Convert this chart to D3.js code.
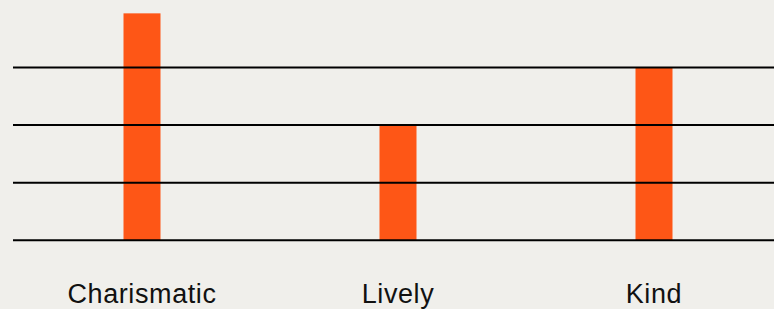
<!DOCTYPE html>
<html lang="en">
<head>
    <script src="https://d3js.org/d3.v7.min.js"></script>
    <style>
        html, body {
            margin: 0;
            padding: 0;
            background: #f0efeb;
        }

        .label {
            font-family: "Liberation Sans", Arial, sans-serif;
            font-size: 27px;
            letter-spacing: 0.6px;
            fill: #111;
        }
    </style>
</head>
<body>
<div id="chart"></div>

<script>
    var categories = ["Charismatic", "Lively", "Kind"];
    var values = [3.94, 2, 3];
    var gridValues = [0, 1, 2, 3];

    var w = 774;
    var h = 309;

    var svg = d3.select("#chart")
        .append("svg")
        .attr("width", w)
        .attr("height", h);

    var xScale = d3.scalePoint()
        .domain(categories)
        .range([14, 782])
        .padding(0.5);

    var yScale = d3.scaleLinear()
        .domain([0, 4])
        .range([240.3, 9.9]);

    var barWidth = 37;

    svg.selectAll("rect.bar")
        .data(categories)
        .enter()
        .append("rect")
        .attr("class", "bar")
        .attr("x", d => xScale(d) - barWidth / 2)
        .attr("y", (d, i) => yScale(values[i]))
        .attr("width", barWidth)
        .attr("height", (d, i) => yScale(0) - yScale(values[i]))
        .attr("fill", "#fe5616");

    svg.selectAll("line.grid")
        .data(gridValues)
        .enter()
        .append("line")
        .attr("class", "grid")
        .attr("x1", 13)
        .attr("x2", w)
        .attr("y1", d => yScale(d))
        .attr("y2", d => yScale(d))
        .attr("stroke", "#000")
        .attr("stroke-width", 2);

    svg.selectAll("text.label")
        .data(categories)
        .enter()
        .append("text")
        .attr("class", "label")
        .attr("x", d => xScale(d))
        .attr("y", 302.7)
        .attr("text-anchor", "middle")
        .text(d => d);
</script>
</body>
</html>
